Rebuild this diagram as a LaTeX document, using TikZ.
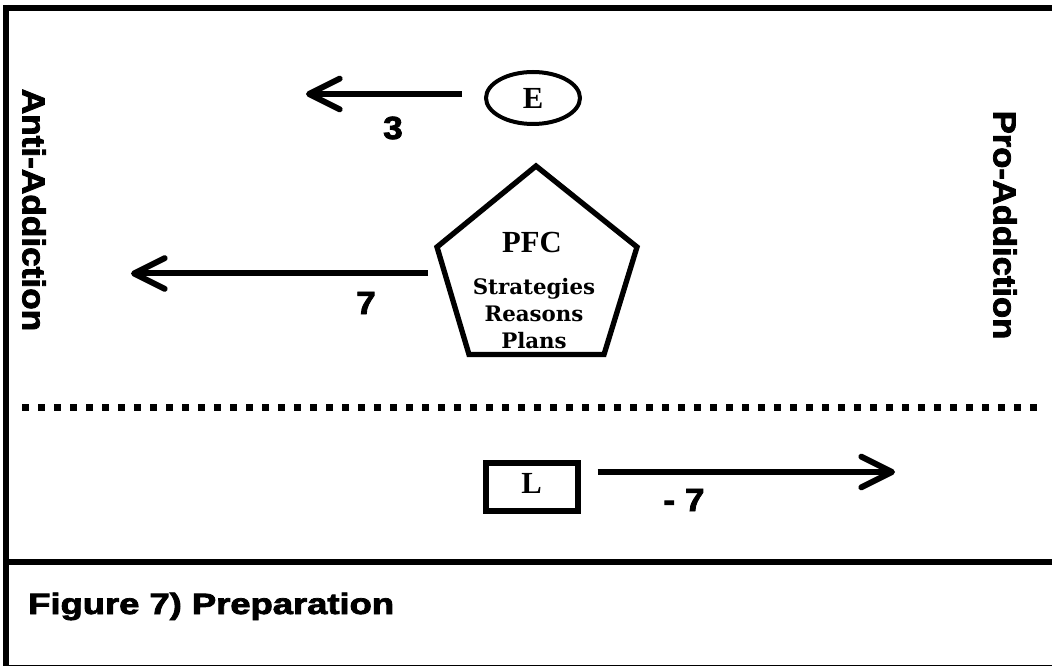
\documentclass[tikz,border=0pt]{standalone}
\usepackage{fontspec}
\usepackage{graphicx}
\usetikzlibrary{shapes.geometric,arrows.meta}
\newfontfamily\heavyfont{Liberation Sans}[FakeBold=2.5]
\newfontfamily\serifb{Liberation Serif}
\newfontfamily\planfont{DejaVu Serif}
\tikzset{
  frameline/.style={line width=4.5pt},
  arr/.style={line width=4.5pt, -{Straight Barb[length=23pt,width=23pt,line cap=round,line join=round]}},
  num/.style={inner sep=0pt, font=\heavyfont\bfseries\fontsize{24}{26}\selectfont},
  sidelabel/.style={inner sep=0pt, rotate=-90, font=\heavyfont\bfseries\fontsize{24}{26}\selectfont},
  letter/.style={inner sep=0pt, font=\serifb\bfseries\fontsize{23}{25}\selectfont},
  plan/.style={inner sep=0pt, anchor=base, font=\planfont\bfseries\fontsize{16}{18}\selectfont},
}
\begin{document}
\begin{tikzpicture}[x=0.75pt,y=-0.75pt]
\useasboundingbox (0,0) rectangle (1052,666);
% frame
\draw[frameline] (3,8) -- (1052,8);
\draw[frameline] (6,5) -- (6,666);
\draw[frameline] (3,562) -- (1052,562);
\draw[line width=1.2pt] (3,665.4) -- (1052,665.4);
% dotted divider
\draw[line width=5.25pt, dash pattern=on 5.25pt off 6.75pt] (22,407.5) -- (1040,407.5);
% side labels
\node[sidelabel] (anti) at (34,210) {\scalebox{1.1}[1]{Anti-Addiction}};
\node[sidelabel] (pro) at (1005,225) {\scalebox{1.08}[1]{Pro-Addiction}};
% E
\node[letter, draw, ellipse, line width=3pt, minimum width=70.5pt, minimum height=39pt] (e) at (533,98) {E};
\coordinate (etip) at (306,94);
\draw[arr] ([shift={(-22,-4)}]e.west) -- (etip);
\node[num] (n3) at (393,128) {\scalebox{1.1}[1]{3}};
% PFC pentagon
\draw[line width=4pt, line join=miter] (536,166) -- (637,247) -- (604,354.5) -- (469,354.5) -- (437,247) -- cycle;
\node[letter, anchor=base] (pfc) at (532,253) {PFC};
\node[plan] (strat) at (534,295) {Strategies};
\node[plan] (reas) at (534,322) {Reasons};
\node[plan] (plans) at (534,349) {Plans};
\coordinate (pfcstart) at (428,273.5);
\coordinate (pfctip) at (131,273.5);
\draw[arr] (pfcstart) -- (pfctip);
\node[num] (n7) at (366,303) {\scalebox{1.1}[1]{7}};
% L
\node[letter, draw, rectangle, line width=4.5pt, minimum width=69pt, minimum height=36pt] (l) at (531.5,486.5) {\raisebox{4pt}{L}};
\coordinate (ltip) at (895,472);
\draw[arr] ([shift={(17,-14.5)}]l.east) -- (ltip);
\node[num] (nm7) at (684,500) {\scalebox{1.1}[1]{- 7}};
% caption
\node[inner sep=0pt, anchor=base west, font=\heavyfont\bfseries\fontsize{22}{24}\selectfont] (cap) at (28,614) {\scalebox{1.24}[1]{Figure 7) Preparation}};
\end{tikzpicture}
\end{document}
